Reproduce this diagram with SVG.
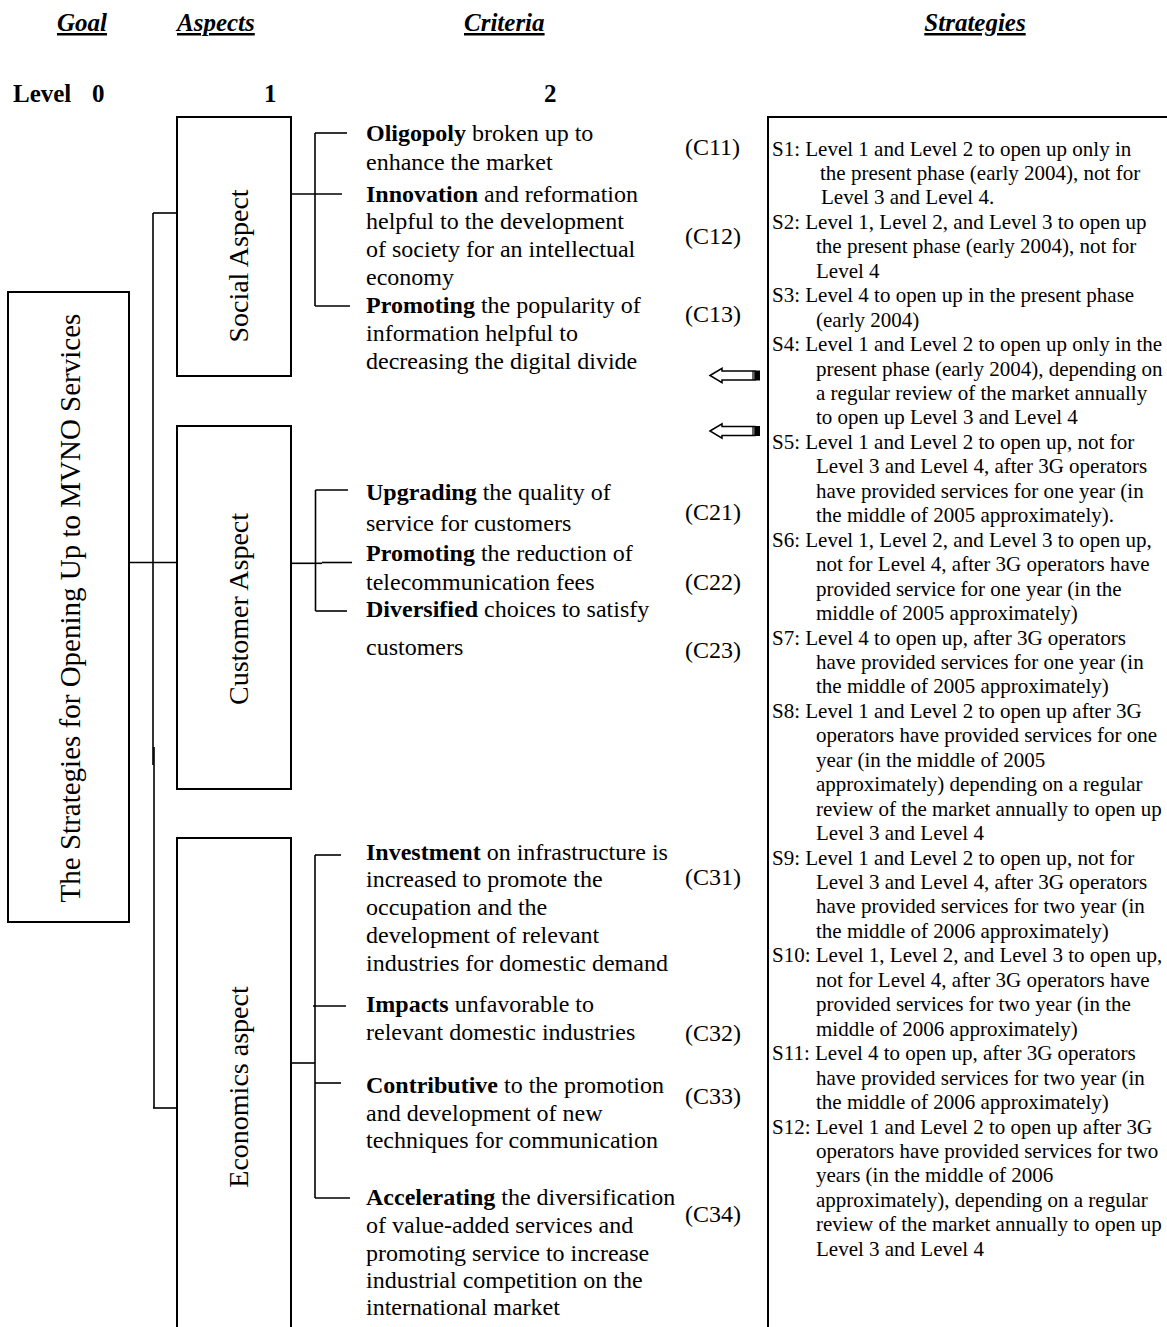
<svg xmlns="http://www.w3.org/2000/svg" width="1167" height="1327" viewBox="0 0 1167 1327">
<style>
text{font-family:"Liberation Serif","Times New Roman",serif;fill:#000}
.hdr{font-size:25px;font-weight:bold;font-style:italic;text-decoration:underline}
.lvl{font-size:25px;font-weight:bold}
.box{fill:#fff;stroke:#000;stroke-width:2}
.ln{stroke:#000;stroke-width:1.6;fill:none}
.crit{font-size:24px}
.cid{font-size:24px}
.rot{font-size:28px}
.goal{font-size:29px}
.st{font-size:21px}
.arrow{fill:#fff;stroke:#000;stroke-width:1.5}
b{font-weight:bold}
</style>
<rect width="1167" height="1327" fill="#fff"/>

<g id="headers">
<text class="hdr" x="57" y="31">Goal</text>
<text class="hdr" x="177" y="31">Aspects</text>
<text class="hdr" x="464" y="31">Criteria</text>
<text class="hdr" x="975" y="31" text-anchor="middle">Strategies</text>
<text class="lvl" x="13" y="102">Level</text>
<text class="lvl" x="92" y="102">0</text>
<text class="lvl" x="264" y="102">1</text>
<text class="lvl" x="544" y="102">2</text>
</g>

<g id="connectors">
<line class="ln" x1="153" y1="213" x2="153" y2="765"/>
<line class="ln" x1="154" y1="747" x2="154" y2="1108"/>
<line class="ln" x1="153" y1="213" x2="177" y2="213"/>
<line class="ln" x1="129" y1="562.5" x2="177" y2="562.5"/>
<line class="ln" x1="153" y1="1108" x2="177" y2="1108"/>
<!-- social bracket -->
<line class="ln" x1="315" y1="133" x2="315" y2="306"/>
<line class="ln" x1="315" y1="133" x2="347" y2="133"/>
<line class="ln" x1="291" y1="194" x2="342" y2="194"/>
<line class="ln" x1="315" y1="306" x2="350" y2="306"/>
<!-- customer bracket -->
<line class="ln" x1="315.5" y1="490" x2="315.5" y2="611"/>
<line class="ln" x1="315.5" y1="490" x2="348" y2="490"/>
<line class="ln" x1="291" y1="563.3" x2="322" y2="563.3"/>
<line class="ln" x1="322" y1="562.5" x2="352" y2="562.5"/>
<line class="ln" x1="315.5" y1="611" x2="347" y2="611"/>
<!-- economics bracket -->
<line class="ln" x1="315" y1="855" x2="315" y2="1198"/>
<line class="ln" x1="315" y1="855" x2="341" y2="855"/>
<line class="ln" x1="313" y1="1006" x2="346" y2="1006"/>
<line class="ln" x1="291" y1="1063" x2="315" y2="1063"/>
<line class="ln" x1="315" y1="1083" x2="341" y2="1083"/>
<line class="ln" x1="315" y1="1198" x2="350" y2="1198"/>
<!-- arrows -->
<g id="arrow1">
<path class="arrow" d="M710,375.5 L722,368.3 L722,371 L755,371 L755,380 L722,380 L722,382.7 Z"/>
<line x1="753" y1="371" x2="753" y2="380" stroke="#000" stroke-width="1.2"/>
<rect x="755" y="370.5" width="5" height="10" fill="#000"/>
</g>
<g id="arrow2">
<path class="arrow" d="M710,431 L722,423.8 L722,426.5 L755,426.5 L755,435.5 L722,435.5 L722,438.2 Z"/>
<line x1="753" y1="426.5" x2="753" y2="435.5" stroke="#000" stroke-width="1.2"/>
<rect x="755" y="426" width="5" height="10" fill="#000"/>
</g>
</g>

<g id="goal">
<rect class="box" x="8" y="292" width="121" height="630"/>
<text class="goal" transform="translate(80,608) rotate(-90)" text-anchor="middle">The Strategies for Opening Up to MVNO Services</text>
</g>

<g id="social">
<rect class="box" x="177" y="117" width="114" height="259"/>
<text class="rot" transform="translate(248,266) rotate(-90)" text-anchor="middle">Social Aspect</text>
</g>
<g id="customer">
<rect class="box" x="177" y="426" width="114" height="363"/>
<text class="rot" transform="translate(248,609) rotate(-90)" text-anchor="middle">Customer Aspect</text>
</g>
<g id="economics">
<path class="ln" style="stroke-width:2" d="M177,1327 L177,838 L291,838 L291,1327"/>
<text class="rot" transform="translate(248,1087) rotate(-90)" text-anchor="middle">Economics aspect</text>
</g>

<g id="c11"><text class="crit" x="366" y="141"><tspan font-weight="bold">Oligopoly</tspan> broken up to</text><text class="crit" x="366" y="170">enhance the market</text><text class="cid" x="685" y="155">(C11)</text></g>
<g id="c12"><text class="crit" x="366" y="202"><tspan font-weight="bold">Innovation</tspan> and reformation</text><text class="crit" x="366" y="229">helpful to the development</text><text class="crit" x="366" y="257">of society for an intellectual</text><text class="crit" x="366" y="285">economy</text><text class="cid" x="685" y="244">(C12)</text></g>
<g id="c13"><text class="crit" x="366" y="313"><tspan font-weight="bold">Promoting</tspan> the popularity of</text><text class="crit" x="366" y="341">information helpful to</text><text class="crit" x="366" y="369">decreasing the digital divide</text><text class="cid" x="685" y="322">(C13)</text></g>

<g id="c21"><text class="crit" x="366" y="500"><tspan font-weight="bold">Upgrading</tspan> the quality of</text><text class="crit" x="366" y="531">service for customers</text><text class="cid" x="685" y="520">(C21)</text></g>
<g id="c22"><text class="crit" x="366" y="561"><tspan font-weight="bold">Promoting</tspan> the reduction of</text><text class="crit" x="366" y="590">telecommunication fees</text><text class="cid" x="685" y="590">(C22)</text></g>
<g id="c23"><text class="crit" x="366" y="617"><tspan font-weight="bold">Diversified</tspan> choices to satisfy</text><text class="crit" x="366" y="655">customers</text><text class="cid" x="685" y="658">(C23)</text></g>

<g id="c31"><text class="crit" x="366" y="860"><tspan font-weight="bold">Investment</tspan> on infrastructure is</text><text class="crit" x="366" y="887">increased to promote the</text><text class="crit" x="366" y="915">occupation and the</text><text class="crit" x="366" y="943">development of relevant</text><text class="crit" x="366" y="971">industries for domestic demand</text><text class="cid" x="685" y="885">(C31)</text></g>
<g id="c32"><text class="crit" x="366" y="1012"><tspan font-weight="bold">Impacts</tspan> unfavorable to</text><text class="crit" x="366" y="1040">relevant domestic industries</text><text class="cid" x="685" y="1041">(C32)</text></g>
<g id="c33"><text class="crit" x="366" y="1093"><tspan font-weight="bold">Contributive</tspan> to the promotion</text><text class="crit" x="366" y="1121">and development of new</text><text class="crit" x="366" y="1148">techniques for communication</text><text class="cid" x="685" y="1104">(C33)</text></g>
<g id="c34"><text class="crit" x="366" y="1205"><tspan font-weight="bold">Accelerating</tspan> the diversification</text><text class="crit" x="366" y="1233">of value-added services and</text><text class="crit" x="366" y="1261">promoting service to increase</text><text class="crit" x="366" y="1288">industrial competition on the</text><text class="crit" x="366" y="1315">international market</text><text class="cid" x="685" y="1222">(C34)</text></g>

<g id="strategies">
<path class="ln" style="stroke-width:2" d="M768,1327 L768,117 L1167,117"/>
<text class="st">
<tspan x="772" y="155.5">S1: Level 1 and Level 2 to open up only in</tspan>
<tspan x="820" y="179.9">the present phase (early 2004), not for</tspan>
<tspan x="821" y="204.4">Level 3 and Level 4.</tspan>
<tspan x="772" y="228.8">S2: Level 1, Level 2, and Level 3 to open up</tspan>
<tspan x="816" y="253.3">the present phase (early 2004), not for</tspan>
<tspan x="816" y="277.8">Level 4</tspan>
<tspan x="772" y="302.2">S3: Level 4 to open up in the present phase</tspan>
<tspan x="816" y="326.6">(early 2004)</tspan>
<tspan x="772" y="351.1">S4: Level 1 and Level 2 to open up only in the</tspan>
<tspan x="816" y="375.5">present phase (early 2004), depending on</tspan>
<tspan x="816" y="400.0">a regular review of the market annually</tspan>
<tspan x="816" y="424.4">to open up Level 3 and Level 4</tspan>
<tspan x="772" y="448.9">S5: Level 1 and Level 2 to open up, not for</tspan>
<tspan x="816" y="473.3">Level 3 and Level 4, after 3G operators</tspan>
<tspan x="816" y="497.8">have provided services for one year (in</tspan>
<tspan x="816" y="522.2">the middle of 2005 approximately).</tspan>
<tspan x="772" y="546.7">S6: Level 1, Level 2, and Level 3 to open up,</tspan>
<tspan x="816" y="571.1">not for Level 4, after 3G operators have</tspan>
<tspan x="816" y="595.6">provided service for one year (in the</tspan>
<tspan x="816" y="620.0">middle of 2005 approximately)</tspan>
<tspan x="772" y="644.5">S7: Level 4 to open up, after 3G operators</tspan>
<tspan x="816" y="668.9">have provided services for one year (in</tspan>
<tspan x="816" y="693.4">the middle of 2005 approximately)</tspan>
<tspan x="772" y="717.8">S8: Level 1 and Level 2 to open up after 3G</tspan>
<tspan x="816" y="742.3">operators have provided services for one</tspan>
<tspan x="816" y="766.7">year (in the middle of 2005</tspan>
<tspan x="816" y="791.2">approximately) depending on a regular</tspan>
<tspan x="816" y="815.6">review of the market annually to open up</tspan>
<tspan x="816" y="840.1">Level 3 and Level 4</tspan>
<tspan x="772" y="864.5">S9: Level 1 and Level 2 to open up, not for</tspan>
<tspan x="816" y="889.0">Level 3 and Level 4, after 3G operators</tspan>
<tspan x="816" y="913.4">have provided services for two year (in</tspan>
<tspan x="816" y="937.9">the middle of 2006 approximately)</tspan>
<tspan x="772" y="962.3">S10: Level 1, Level 2, and Level 3 to open up,</tspan>
<tspan x="816" y="986.8">not for Level 4, after 3G operators have</tspan>
<tspan x="816" y="1011.2">provided services for two year (in the</tspan>
<tspan x="816" y="1035.7">middle of 2006 approximately)</tspan>
<tspan x="772" y="1060.1">S11: Level 4 to open up, after 3G operators</tspan>
<tspan x="816" y="1084.6">have provided services for two year (in</tspan>
<tspan x="816" y="1109.0">the middle of 2006 approximately)</tspan>
<tspan x="772" y="1133.5">S12: Level 1 and Level 2 to open up after 3G</tspan>
<tspan x="816" y="1157.9">operators have provided services for two</tspan>
<tspan x="816" y="1182.4">years (in the middle of 2006</tspan>
<tspan x="816" y="1206.8">approximately), depending on a regular</tspan>
<tspan x="816" y="1231.3">review of the market annually to open up</tspan>
<tspan x="816" y="1255.7">Level 3 and Level 4</tspan>
</text>
</g>
</svg>
